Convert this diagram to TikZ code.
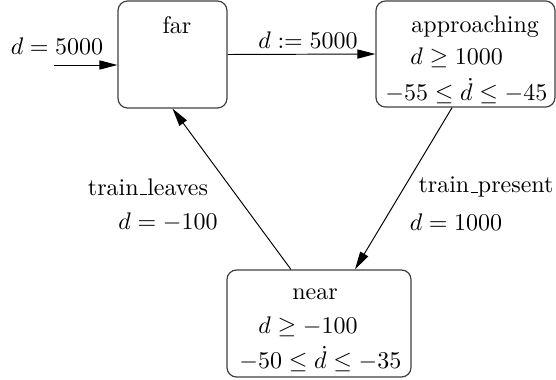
\documentclass[tikz,border=0pt]{standalone}
\usepackage{tikz}
\usetikzlibrary{arrows.meta,positioning}
\newcommand\usc{\leavevmode\kern.06em\vbox{\hrule width.3em}}
\tikzset{
  stbox/.style={draw=black!75,rounded corners=4pt,line width=0.5pt,inner sep=0pt},
  txt/.style={inner sep=0pt},
  flow/.style={-{Triangle[length=7.5pt,width=3.8pt]},line width=0.4pt}
}
\begin{document}
\begin{tikzpicture}[x=0.4167pt,y=-0.4167pt]
  \useasboundingbox (0,0) rectangle (556,379);
  % states
  \node[stbox,minimum width=45.4pt,minimum height=44.6pt] (far) at (172.5,54.5) {};
  \node[stbox,minimum width=74.6pt,minimum height=44.2pt] (appr) at (465.5,54) {};
  \node[stbox,minimum width=76.7pt,minimum height=44.6pt] (near) at (319,323.5) {};
  % state texts
  \node[txt] (t-far) at (177,25) {far};
  \node[txt,anchor=west] (t-appr) at (411,27) {approaching};
  \node[txt,anchor=west] (inv-appr1) at (410,58) {$d \geq 1000$};
  \node[txt,anchor=west] (inv-appr2) at (385,91) {$-55 \leq \dot{d} \leq -45$};
  \node[txt] (t-near) at (315,294) {near};
  \node[txt,anchor=west] (inv-near1) at (258,327) {$d \geq -100$};
  \node[txt,anchor=west] (inv-near2) at (239,359) {$-50 \leq \dot{d} \leq -35$};
  % transitions
  \coordinate (init) at (54,65);
  \draw[flow] (init) -- (init -| far.west);
  \node[txt] (l-init) at (57,46) {$d = 5000$};
  \draw[flow] (far.east) -- (appr.west);
  \node[txt] (l-go) at (308,40) {$d := 5000$};
  \draw[flow] ([xshift=-5.6pt]appr.south) -- ([xshift=15pt]near.north);
  \node[txt] (l-present) at (486,187) {train\usc present};
  \node[txt] (l-present2) at (456,222) {$d = 1000$};
  \draw[flow] ([xshift=-11.7pt]near.north) -- (far.south);
  \node[txt] (l-leave) at (148,187) {train\usc leaves};
  \node[txt] (l-leave2) at (168,222) {$d = -100$};
\end{tikzpicture}
\end{document}
